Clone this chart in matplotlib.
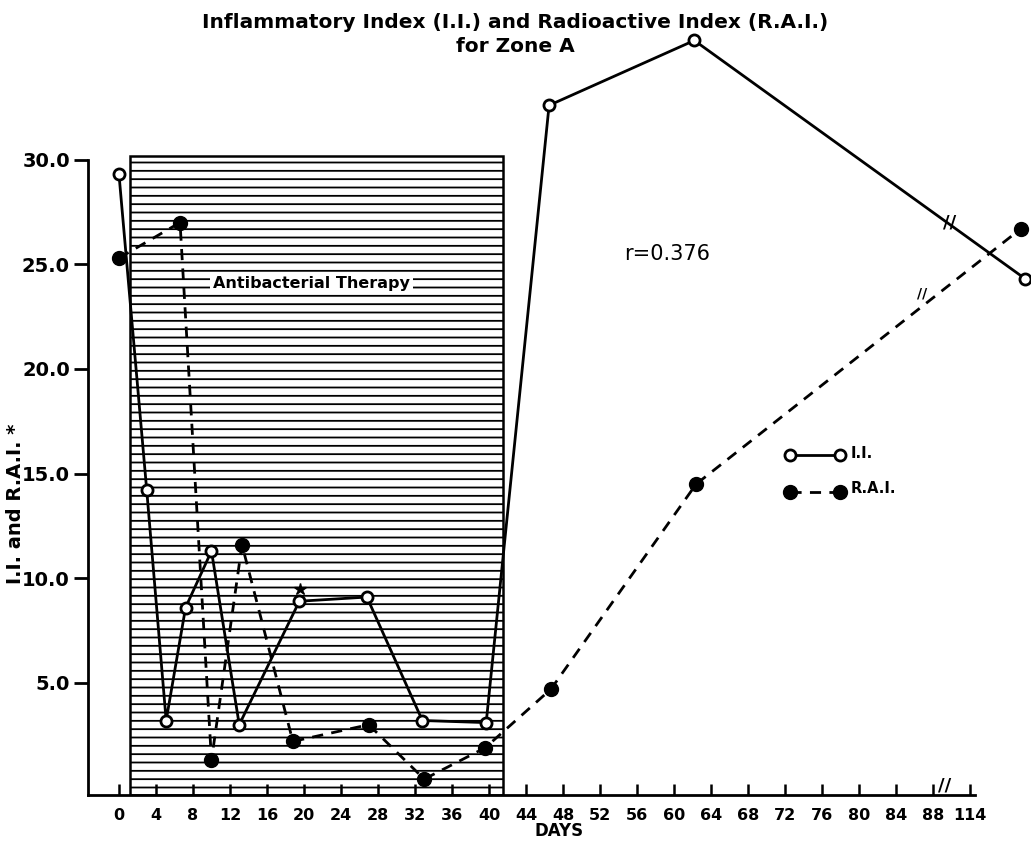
#Zone A graph: I.I. and R.A.I. against days
import matplotlib
matplotlib.use("Agg")
import matplotlib.pyplot as plt
from matplotlib.patches import Rectangle

plt.rcParams['font.family'] = ['DejaVu Sans']
plt.rcParams['hatch.linewidth'] = 1.3

#data (day 114 is drawn after the axis break)
ii_days = [0, 3, 5.1, 7.2, 10, 13, 19.5, 26.8, 32.8, 39.7, 46.5, 62.2, 98]
ii_vals = [29.3, 14.2, 3.2, 8.6, 11.3, 3.0, 8.9, 9.1, 3.2, 3.1, 32.6, 35.7, 24.3]

rai_days = [0, 6.6, 10, 13.3, 18.8, 27, 33, 39.6, 46.7, 62.4, 97.5]
rai_vals = [25.3, 27.0, 1.3, 11.6, 2.2, 3.0, 0.4, 1.9, 4.7, 14.5, 26.7]

tick_pos = list(range(0, 89, 4)) + [92]
tick_labels = [str(d) for d in range(0, 89, 4)] + ["114"]
y_ticks = [5, 10, 15, 20, 25, 30]
y_labels = ["5.0", "10.0", "15.0", "20.0", "25.0", "30.0"]

therapy_start = 1.2
therapy_end = 41.5

fig = plt.figure(figsize=(10.31, 8.43), dpi=100)
ax = fig.add_axes([88 / 1031, 48 / 843, (1031 - 88) / 1031, 765 / 843])
ax.set_xlim(-3.35, 98.6)
ax.set_ylim(-0.36, 36.2)

#hatched therapy box
box = Rectangle((therapy_start, -0.36), therapy_end - therapy_start, 30.56,
                facecolor="white", edgecolor="black", hatch="--", lw=1.8, zorder=1)
ax.add_patch(box)
ax.text(20.8, 24.1, "Antibacterial Therapy", fontsize=11.5, fontweight="bold",
        ha="center", va="center", zorder=2,
        bbox=dict(facecolor="white", edgecolor="none", pad=2))

#the two series
ax.plot(ii_days, ii_vals, color="black", lw=2, marker="o", ms=8,
        mfc="white", mec="black", mew=2, zorder=4, clip_on=False)
ax.plot(rai_days, rai_vals, color="black", lw=2, ls=(0, (4, 3)), marker="o",
        ms=10, mfc="black", mec="black", zorder=3, clip_on=False)
ax.plot([19.6], [9.5], marker="*", color="black", ms=9, zorder=5)

#break marks
ax.text(89.8, 27.0, "//", fontsize=13, fontweight="bold", ha="center", va="center")
ax.text(86.8, 23.6, "//", fontsize=10, fontweight="bold", ha="center", va="center")
ax.text(89.3, 0.1, "//", fontsize=13, fontweight="bold", ha="center", va="center",
        clip_on=False)

ax.text(59.3, 25.5, "r=0.376", fontsize=15, ha="center", va="center")

#legend drawn by hand
ax.plot([72.5, 78], [15.9, 15.9], color="black", lw=2, marker="o", ms=8,
        mfc="white", mec="black", mew=2)
ax.text(79.1, 15.95, "I.I.", fontsize=10.5, fontweight="bold", va="center")
ax.plot([72.5, 78], [14.1, 14.1], color="black", lw=2, ls=(0, (4, 3)),
        marker="o", ms=10, mfc="black", mec="black")
ax.text(79.1, 14.3, "R.A.I.", fontsize=10.5, fontweight="bold", va="center")

#axes
for s in ["top", "right"]:
    ax.spines[s].set_visible(False)
ax.spines["left"].set_bounds(-0.36, 30)
ax.spines["bottom"].set_bounds(-3.35, 92.5)
ax.spines["left"].set_linewidth(2)
ax.spines["bottom"].set_linewidth(2)

ax.set_yticks(y_ticks)
ax.set_yticklabels(y_labels, fontsize=14, fontweight="bold")
ax.tick_params(axis="y", direction="out", length=10, width=2, pad=3)
ax.set_xticks(tick_pos)
ax.set_xticklabels(tick_labels, fontsize=11.5, fontweight="bold")
ax.tick_params(axis="x", direction="in", length=8, width=1.8, pad=9)

ax.set_ylabel("I.I. and R.A.I. *", fontsize=14, fontweight="bold")
ax.yaxis.set_label_coords(-0.067, 0.38)
ax.set_xlabel("DAYS", fontsize=12, fontweight="bold", labelpad=0)

fig.text(0.5, 1 - 22 / 843, "Inflammatory Index (I.I.) and Radioactive Index (R.A.I.)",
         ha="center", va="center", fontsize=14.5, fontweight="bold")
fig.text(0.5, 1 - 47 / 843, "for Zone A", ha="center", va="center",
         fontsize=14.5, fontweight="bold")

fig.savefig("out.png", dpi=100)
